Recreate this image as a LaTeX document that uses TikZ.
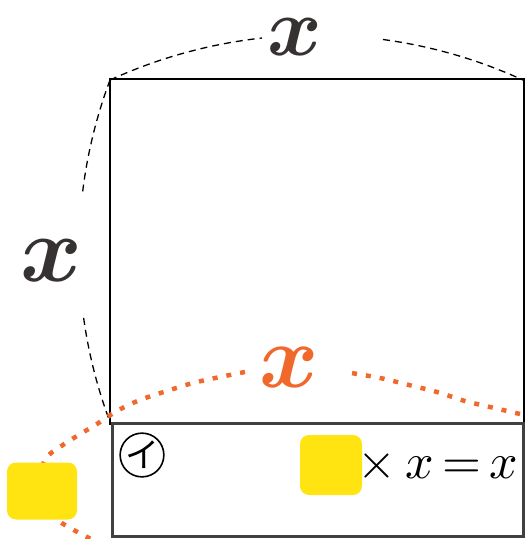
\documentclass[tikz,border=0pt]{standalone}
\usepackage{bm}
\usepackage{graphicx}
\usepackage{fontspec}
\newfontfamily\cjk{Noto Sans CJK JP}
\definecolor{pen}{RGB}{240,104,44}
\definecolor{hili}{RGB}{255,228,18}
\definecolor{ink}{RGB}{55,50,50}
\tikzset{
  blackdash/.style={line width=1.3pt, dash pattern=on 7pt off 5pt},
  orangedot/.style={line width=4.5pt, color=pen, dash pattern=on 5pt off 9pt},
  handx/.style={text=ink, inner sep=0pt},
  blob/.style={fill=hili, rounded corners=9pt, inner sep=0pt},
}
\begin{document}
\begin{tikzpicture}[x=1pt,y=-1pt]
\useasboundingbox (0,0) rectangle (529,539);
% square
\node[draw, line width=1.3pt, minimum width=414pt, minimum height=345pt, inner sep=0pt] (sq) at (317,251.5) {};
% strip
\node[draw=black!75, line width=2.6pt, minimum width=411pt, minimum height=113pt, inner sep=0pt] (strip) at (318,480) {};
% top dashed arc
\draw[blackdash] plot[smooth, domain=114.6:96.3, samples=30] ({316.5+496.3*cos(\x)}, {531.3-496.3*sin(\x)});
\draw[blackdash] plot[smooth, domain=82.3:65.4, samples=30] ({316.5+496.3*cos(\x)}, {531.3-496.3*sin(\x)});
% left dashed arc
\draw[blackdash] plot[smooth, domain=159.45:173.4, samples=30] ({566.1+487.1*cos(\x)}, {251-487.1*sin(\x)});
\draw[blackdash] plot[smooth, domain=187.9:200.55, samples=30] ({566.1+487.1*cos(\x)}, {251-487.1*sin(\x)});
% orange dotted arc
\draw[orangedot] plot[smooth, tension=0.6] coordinates {(520,414) (490,407) (465,401) (437,392) (413,386) (380,378) (345,372)};
\draw[orangedot] plot[smooth, tension=0.6] coordinates {(245,372) (220,377) (193,383) (170,390) (140,400) (117,411) (97,424) (77,436) (60,447) (45,460) (38,490) (55,517) (72,529) (95,541)};
% labels
\node[handx] (xtop) at (295,37) {\scalebox{8.3}{$\bm{x}$}};
\node[handx] (xleft) at (51,261) {\scalebox{9.4}{$\bm{x}$}};
\node[handx, text=pen] (xmid) at (289,367) {\scalebox{9}{$\bm{x}$}};
% yellow blobs
\node[blob, minimum width=70pt, minimum height=57pt] (b1) at (42,491) {};
\node[blob, minimum width=62pt, minimum height=60pt] (b2) at (331,465) {};
% circled i
\node[draw, circle, line width=1.6pt, minimum size=40pt, inner sep=0pt, font=\cjk\fontsize{34}{34}\selectfont] (ci) at (142,455) {イ};
% equation
\node[anchor=base east, inner sep=0pt] (eq) at (518,478) {\scalebox{5}{${\times}\mkern3mu x\mkern3mu{=}\mkern3mu x$}};
\end{tikzpicture}
\end{document}
